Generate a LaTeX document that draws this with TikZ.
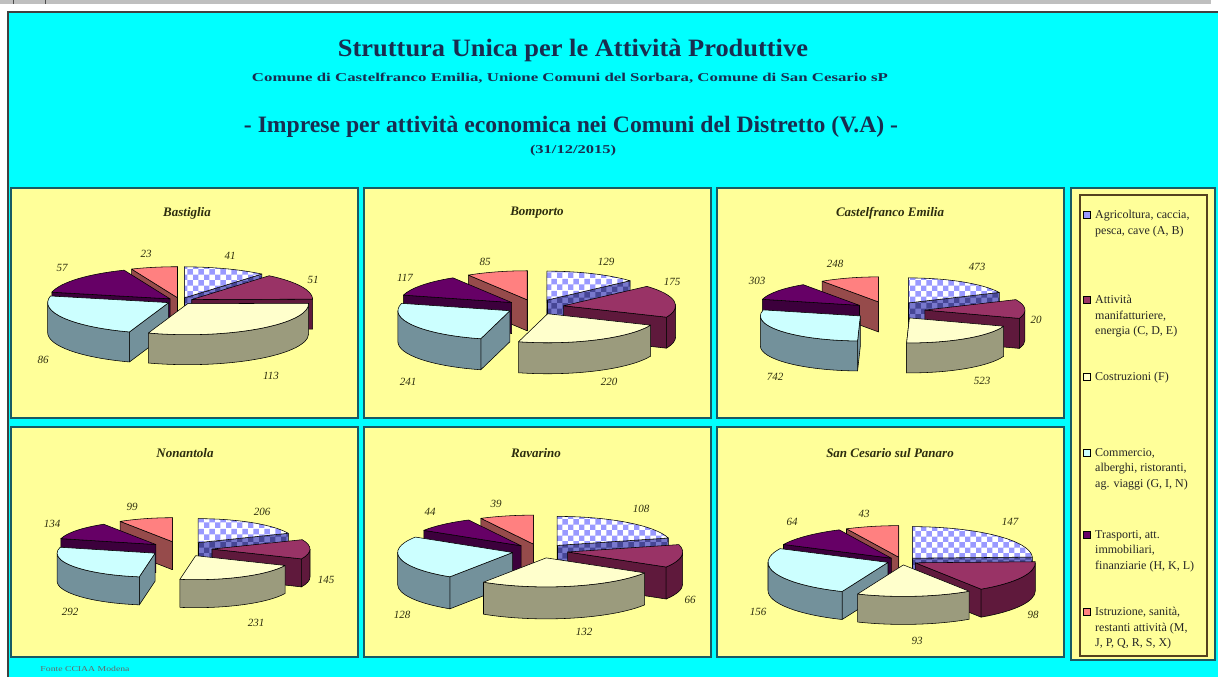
\documentclass[tikz,border=0pt]{standalone}
\usepackage{fontspec}
\setmainfont{Liberation Serif}
\usepackage{graphicx}
\usetikzlibrary{patterns}
\definecolor{bgcyan}{RGB}{0,255,255}
\definecolor{panelfill}{RGB}{255,255,153}
\definecolor{panelline}{RGB}{25,90,100}
\definecolor{legline}{RGB}{85,65,30}
\definecolor{titlecol}{RGB}{25,45,80}
\definecolor{labcol}{RGB}{45,45,15}
\definecolor{agriA}{RGB}{153,153,255}
\definecolor{agriS}{RGB}{120,120,205}
\definecolor{agriSP}{RGB}{70,70,150}
\definecolor{manufT}{RGB}{153,51,102}
\definecolor{manufS}{RGB}{95,25,60}
\definecolor{costrT}{RGB}{255,255,204}
\definecolor{costrS}{RGB}{155,155,125}
\definecolor{commT}{RGB}{204,255,255}
\definecolor{commS}{RGB}{115,145,155}
\definecolor{traspT}{RGB}{102,0,102}
\definecolor{traspS}{RGB}{60,0,60}
\definecolor{istrT}{RGB}{255,128,128}
\definecolor{istrS}{RGB}{150,75,75}
\tikzset{
  pieline/.style={draw=black,line width=0.55pt,line join=round},
  agri top/.style={pieline,preaction={fill=white},pattern=checkerboard,pattern color=agriA},
  agri side/.style={pieline,preaction={fill=agriS},pattern=checkerboard,pattern color=agriSP},
  manuf top/.style={pieline,fill=manufT},
  manuf side/.style={pieline,fill=manufS},
  costr top/.style={pieline,fill=costrT},
  costr side/.style={pieline,fill=costrS},
  comm top/.style={pieline,fill=commT},
  comm side/.style={pieline,fill=commS},
  trasp top/.style={pieline,fill=traspT},
  trasp side/.style={pieline,fill=traspS},
  istr top/.style={pieline,fill=istrT},
  istr side/.style={pieline,fill=istrS},
  panel/.style={draw=panelline,line width=1.8pt,fill=panelfill},
  ptitle/.style={font=\fontsize{13}{15}\selectfont\bfseries\itshape,text=labcol,inner sep=0pt},
  val/.style={font=\fontsize{11}{13}\selectfont\itshape,text=labcol,inner sep=0pt},
  legtext/.style={font=\fontsize{12}{15.5}\selectfont,text=black!85,align=left,anchor=north west,inner sep=0pt},
  legbox/.style={draw=black,line width=0.6pt,minimum size=7pt,inner sep=0pt},
  head/.style={text=titlecol,inner sep=0pt},
}
\newcommand\setpie[6]{%
  \def\pcx{#1}\def\pcy{#2}\def\prx{#3}\def\pry{#4}\def\pe{#5}\def\ph{#6}%
  \pgfmathsetmacro\pDv{4*#3}}
\newcommand\pslice[3]{%
  \pgfmathsetmacro\sD{#2-#1}%
  \pgfmathsetmacro\sA{90-#2}%
  \pgfmathsetmacro\sA{\sA-360*floor((\sA+180)/360)}%
  \pgfmathsetmacro\sB{\sA+\sD}%
  \pgfmathsetmacro\sAo{\sA+180}%
  \pgfmathsetmacro\sBo{\sB+180}%
  \pgfmathsetmacro\sM{\sA+\sD/2}%
  \pgfmathsetmacro\sox{\pcx+\pe*cos(\sM)}%
  \pgfmathsetmacro\soy{\pcy+\pry/\prx*\pe*sin(\sM)}%
  \coordinate (O) at (\sox,\soy);
  \pgfmathsetmacro\vA{\pDv*cos(\sA)+\pe*sin(\sD/2)}%
  \pgfmathsetmacro\vB{-\pDv*cos(\sB)+\pe*sin(\sD/2)}%
  \ifdim\vA pt>0pt
    \path[#3 side] (O) -- ++(\sA:{\prx} and {\pry}) -- ++(0,-\ph) -- ++(\sAo:{\prx} and {\pry}) -- cycle;
  \fi
  \ifdim\vB pt>0pt
    \path[#3 side] (O) -- ++(\sB:{\prx} and {\pry}) -- ++(0,-\ph) -- ++(\sBo:{\prx} and {\pry}) -- cycle;
  \fi
  \pgfmathsetmacro\bs{max(\sA,-180)}\pgfmathsetmacro\bt{min(\sB,0)}%
  \ifdim\bt pt>\bs pt
    \path (O) ++(\bs:{\prx} and {\pry}) coordinate (S);
    \path[#3 side] (S) arc[start angle=\bs,end angle=\bt,x radius=\prx,y radius=\pry] -- ++(0,-\ph) arc[start angle=\bt,end angle=\bs,x radius=\prx,y radius=\pry] -- cycle;
  \fi
  \pgfmathsetmacro\bs{max(\sA,180)}\pgfmathsetmacro\bt{min(\sB,360)}%
  \ifdim\bt pt>\bs pt
    \path (O) ++(\bs:{\prx} and {\pry}) coordinate (S);
    \path[#3 side] (S) arc[start angle=\bs,end angle=\bt,x radius=\prx,y radius=\pry] -- ++(0,-\ph) arc[start angle=\bt,end angle=\bs,x radius=\prx,y radius=\pry] -- cycle;
  \fi
  \path[#3 top] (O) -- ++(\sA:{\prx} and {\pry}) arc[start angle=\sA,end angle=\sB,x radius=\prx,y radius=\pry] -- cycle;
}
\newcommand\drawpie[6]{%
  \pgfmathsetmacro\ptot{#1+#2+#3+#4+#5+#6}%
  \pgfmathsetmacro\qB{#1/\ptot*360}%
  \pgfmathsetmacro\qC{(#1+#2)/\ptot*360}%
  \pgfmathsetmacro\qD{(#1+#2+#3)/\ptot*360}%
  \pgfmathsetmacro\qE{(#1+#2+#3+#4)/\ptot*360}%
  \pgfmathsetmacro\qF{(#1+#2+#3+#4+#5)/\ptot*360}%
  \pslice{\qF}{360}{istr}%
  \pslice{0}{\qB}{agri}%
  \pslice{\qE}{\qF}{trasp}%
  \pslice{\qB}{\qC}{manuf}%
  \pslice{\qD}{\qE}{comm}%
  \pslice{\qC}{\qD}{costr}%
}
\begin{document}
\begin{tikzpicture}[x=1pt,y=1pt]
\useasboundingbox (0,0) rectangle (1218,677);
% frame
\fill[white] (0,0) rectangle (1218,677);
\fill[black!25] (0,673) rectangle (1211,677);
\draw[black!70,line width=0.8pt] (13,673) -- (13,677);
\draw[black!70,line width=0.8pt] (45,673) -- (45,677);
\fill[bgcyan] (8,0) rectangle (1218,665);
\draw[black!75,line width=1.2pt] (8,0) -- (8,665) -- (1218,665);
% headings
\node[head] (t1) at (573,627) {\resizebox{470pt}{\height}{\fontsize{25}{28}\selectfont\bfseries Struttura Unica per le Attività Produttive}};
\node[head] (t2) at (570,599) {\resizebox{636pt}{\height}{\fontsize{12}{14}\selectfont\bfseries Comune di Castelfranco Emilia, Unione Comuni del Sorbara, Comune di San Cesario sP}};
\node[head] (t3) at (571,550) {\resizebox{654pt}{\height}{\fontsize{23.5}{27}\selectfont\bfseries - Imprese per attività economica nei Comuni del Distretto (V.A) -}};
\node[head] (t4) at (573,526) {\resizebox{86pt}{\height}{\fontsize{12}{14}\selectfont\bfseries (31/12/2015)}};
% panels
\path[panel] (11,259) rectangle (358,489);
\path[panel] (364,259) rectangle (711,489);
\path[panel] (717,259) rectangle (1064,489);
\path[panel] (11,20) rectangle (358,250);
\path[panel] (364,20) rectangle (711,250);
\path[panel] (717,20) rectangle (1064,250);
\path[panel] (1071,17) rectangle (1215,489);
\draw[legline,line width=1.2pt] (1080,21) rectangle (1207,482);
% panel titles
\node[ptitle] (n1) at (187,464) {Bastiglia};
\node[ptitle] (n2) at (537,464) {Bomporto};
\node[ptitle] (n3) at (890,464) {Castelfranco Emilia};
\node[ptitle] (n4) at (185,224) {Nonantola};
\node[ptitle] (n5) at (536,224) {Ravarino};
\node[ptitle] (n6) at (890,224) {San Cesario sul Panaro};
% pies
\setpie{180}{376}{121}{31}{13}{30}\drawpie{41}{51}{113}{86}{57}{23}
\setpie{535}{370}{112}{29}{29}{31}\drawpie{129}{175}{220}{241}{117}{85}
\setpie{889}{366.5}{100}{25}{36}{30}\drawpie{473}{320}{523}{742}{303}{248}
\setpie{181}{128}{98}{24}{31}{28}\drawpie{206}{145}{231}{292}{134}{99}
\setpie{540}{126}{115}{29}{28}{32}\drawpie{108}{66}{132}{128}{44}{39}
\setpie{902}{116}{120}{31.5}{15}{28}\drawpie{147}{98}{93}{156}{64}{43}
% values
\node[val] (b1) at (230,421) {41};
\node[val] (b2) at (313,397) {51};
\node[val] (b3) at (271,301) {113};
\node[val] (b4) at (43,317) {86};
\node[val] (b5) at (62,409) {57};
\node[val] (b6) at (146,423) {23};
\node[val] (c1) at (606,415) {129};
\node[val] (c2) at (672,395) {175};
\node[val] (c3) at (609,295) {220};
\node[val] (c4) at (408,295) {241};
\node[val] (c5) at (405,399) {117};
\node[val] (c6) at (485,415) {85};
\node[val] (d1) at (977,410) {473};
\node[val] (d2) at (1036,357) {20};
\node[val] (d3) at (982,296) {523};
\node[val] (d4) at (775,300) {742};
\node[val] (d5) at (757,396) {303};
\node[val] (d6) at (835,413) {248};
\node[val] (e1) at (262,165) {206};
\node[val] (e2) at (326,97) {145};
\node[val] (e3) at (256,54) {231};
\node[val] (e4) at (70,65) {292};
\node[val] (e5) at (52,153) {134};
\node[val] (e6) at (132,170) {99};
\node[val] (f1) at (641,168) {108};
\node[val] (f2) at (690,77) {66};
\node[val] (f3) at (584,45) {132};
\node[val] (f4) at (402,62) {128};
\node[val] (f5) at (430,165) {44};
\node[val] (f6) at (496,173) {39};
\node[val] (g1) at (1010,155) {147};
\node[val] (g2) at (1033,62) {98};
\node[val] (g3) at (917,36) {93};
\node[val] (g4) at (758,65) {156};
\node[val] (g5) at (792,155) {64};
\node[val] (g6) at (864,163) {43};
% legend
\node[legbox,fill=agriA] (l1) at (1087,462) {};
\node[legbox,fill=manufT] (l2) at (1087,377) {};
\node[legbox,fill=costrT] (l3) at (1087,300) {};
\node[legbox,fill=commT] (l4) at (1087,224) {};
\node[legbox,fill=traspT] (l5) at (1087,142) {};
\node[legbox,fill=istrT] (l6) at (1087,65) {};
\node[legtext] (m1) at (1095,467) {Agricoltura, caccia,\\pesca, cave (A, B)};
\node[legtext] (m2) at (1095,382) {Attività\\manifatturiere,\\energia (C, D, E)};
\node[legtext] (m3) at (1095,305) {Costruzioni (F)};
\node[legtext] (m4) at (1095,229) {Commercio,\\alberghi, ristoranti,\\ag. viaggi (G, I, N)};
\node[legtext] (m5) at (1095,147) {Trasporti, att.\\immobiliari,\\finanziarie (H, K, L)};
\node[legtext] (m6) at (1095,70) {Istruzione, sanità,\\restanti attività (M,\\J, P, Q, R, S, X)};
% footer
\node[inner sep=0pt,text=black!60] (src) at (85,8) {\resizebox{89pt}{\height}{\fontsize{7.5}{9}\selectfont Fonte CCIAA Modena}};
\end{tikzpicture}
\end{document}
